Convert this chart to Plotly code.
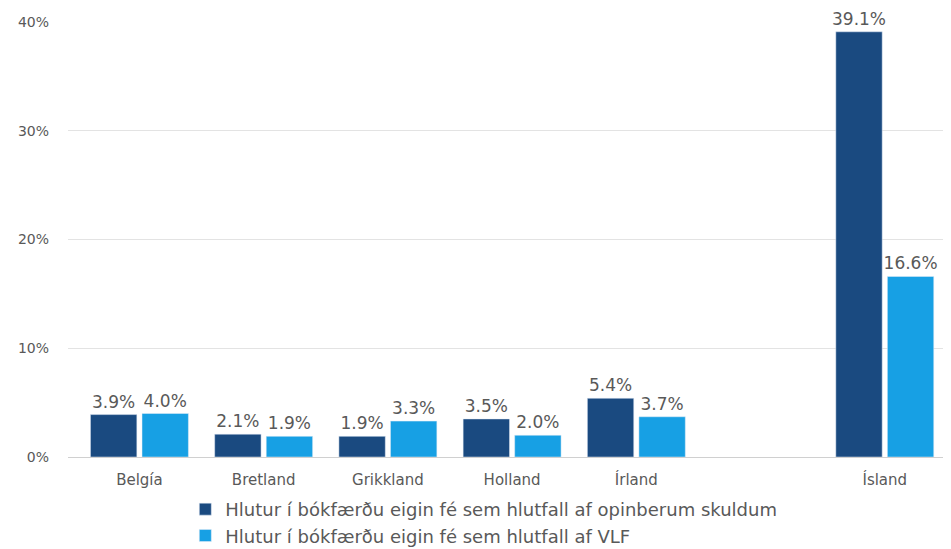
import plotly.graph_objects as go

categories = ["Belgía", "Bretland", "Grikkland", "Holland", "Írland", "Ísland"]
series_names = [
    "Hlutur í bókfærðu eigin fé sem hlutfall af opinberum skuldum",
    "Hlutur í bókfærðu eigin fé sem hlutfall af VLF",
]
share_of_public_debt = [3.9, 2.1, 1.9, 3.5, 5.4, 39.1]
share_of_gdp = [4.0, 1.9, 3.3, 2.0, 3.7, 16.6]
y_tickvals = [0, 10, 20, 30, 40]
y_ticktext = ["0%", "10%", "20%", "30%", "40%"]

dark = "#1A4A80"
light = "#17A0E4"
grey = "#595959"
font_family = "DejaVu Sans, Verdana, sans-serif"

fig = go.Figure()
for name, vals, col in [(series_names[0], share_of_public_debt, dark),
                        (series_names[1], share_of_gdp, light)]:
    fig.add_trace(go.Bar(
        x=categories, y=vals, name=name, marker_color=col,
        text=[f"{v:.1f}%" for v in vals], textposition="outside",
        textfont=dict(size=17, color=grey, family=font_family),
        cliponaxis=False,
    ))

cat_order = categories[:5] + [" "] + categories[5:]

fig.update_layout(
    width=951, height=549,
    margin=dict(l=60, r=9, t=14, b=100, autoexpand=False),
    plot_bgcolor="white", paper_bgcolor="white",
    barmode="group", bargap=0.17, bargroupgap=0.1,
    uniformtext=dict(minsize=17, mode="show"),
    font=dict(family=font_family, size=15, color=grey),
    xaxis=dict(categoryorder="array", categoryarray=cat_order,
               range=[-0.575, 6.525], showgrid=False, ticks="",
               automargin=False, ticklabelstandoff=12,
               tickfont=dict(size=15, color=grey)),
    yaxis=dict(range=[0, 40], tickvals=y_tickvals, ticktext=y_ticktext,
               showgrid=True, gridcolor="#E3E3E3", gridwidth=1,
               zeroline=True, zerolinecolor="#D0D0D0", zerolinewidth=1,
               automargin=False,
               tickfont=dict(size=14, color=grey), ticklabelstandoff=18),
    legend=dict(orientation="v", x=0.133, xanchor="left", y=-0.078, yanchor="top",
                font=dict(size=18, color=grey), tracegroupgap=0,
                itemwidth=30, bgcolor="rgba(0,0,0,0)"),
    showlegend=True,
)

fig.write_html("out.html")
